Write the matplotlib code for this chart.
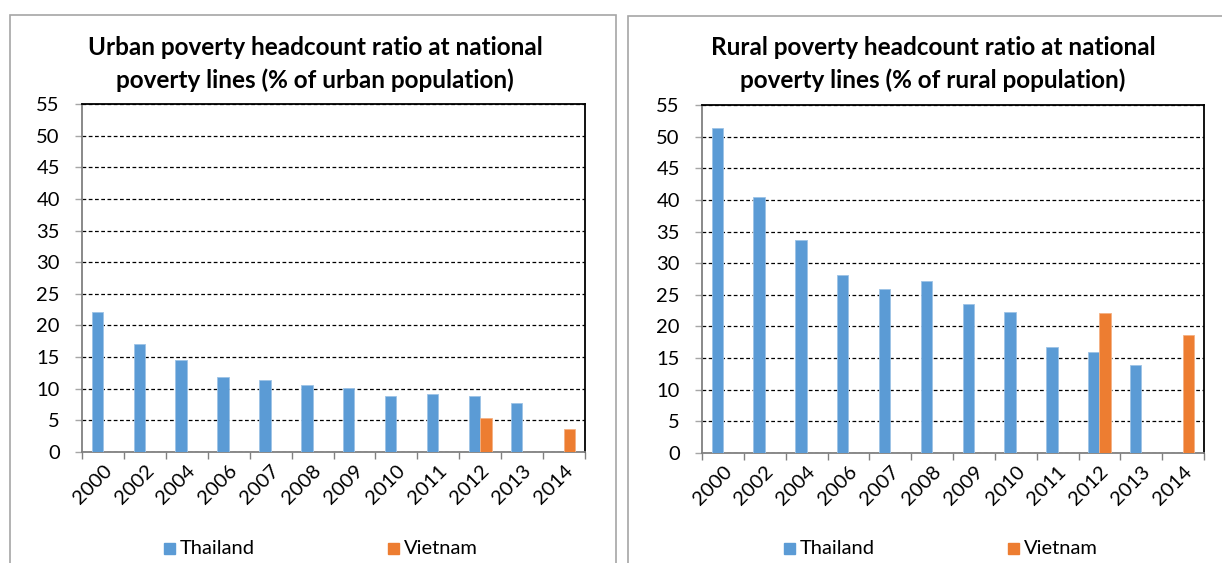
import numpy as np
import matplotlib.pyplot as plt
from matplotlib.patches import Rectangle

plt.rcParams['font.family'] = ['Lato', 'DejaVu Sans']

years = ['2000', '2002', '2004', '2006', '2007', '2008', '2009', '2010', '2011', '2012', '2013', '2014']

# poverty headcount ratio, % of population (nan = no survey that year)
urban_thailand = [22.1, 17.0, 14.6, 11.9, 11.4, 10.6, 10.1, 8.8, 9.1, 8.8, 7.7, np.nan]
urban_vietnam = [np.nan] * 9 + [5.4, np.nan, 3.7]
rural_thailand = [51.4, 40.4, 33.6, 28.2, 25.9, 27.2, 23.6, 22.3, 16.7, 16.0, 13.9, np.nan]
rural_vietnam = [np.nan] * 9 + [22.1, np.nan, 18.6]

titles = ['Urban poverty headcount ratio at national\npoverty lines (% of urban population)',
          'Rural poverty headcount ratio at national\npoverty lines (% of rural population)']

blue = '#5B9BD5'
orange = '#ED7D31'

W, H = 1222, 563
fig = plt.figure(figsize=(W / 100, H / 100), dpi=100)


def px(x0, y0, x1, y1):
    # pixel box (top-left origin) -> figure fraction rect
    return [x0 / W, 1 - y1 / H, (x1 - x0) / W, (y1 - y0) / H]


def panel(box, ax_box, title, title_x, thai, viet, leg_x):
    # grey chart-area frame
    x0, y0, x1, y1 = box
    fig.patches.append(Rectangle((x0 / W, 1 - y1 / H), (x1 - x0) / W, (y1 - y0) / H,
                                 transform=fig.transFigure, fill=False,
                                 edgecolor='#a6a6a6', linewidth=1.2))
    ax = fig.add_axes(px(*ax_box))
    x = np.arange(len(years))
    w = 0.27
    ax.bar(x - w / 2, thai, w, color=blue, edgecolor='#9dc3e6', linewidth=0.6, zorder=3)
    ax.bar(x + w / 2, viet, w, color=orange, edgecolor='#f4b183', linewidth=0.6, zorder=3)
    ax.set_xlim(-0.5, len(years) - 0.5)
    ax.set_ylim(0, 55)
    ax.set_yticks(range(0, 56, 5))
    ax.yaxis.grid(True, linestyle=(0, (3, 2)), color='black', linewidth=0.9, zorder=0)
    ax.set_xticks(x)
    ax.set_xticklabels(years, rotation=45, ha='right', va='top', rotation_mode='anchor', fontsize=14.5)
    ax.set_xticks(np.arange(-0.5, len(years)), minor=True)
    ax.tick_params(axis='x', which='major', length=0, pad=7)
    ax.tick_params(axis='x', which='minor', length=5, color='#808080', width=1)
    ax.tick_params(axis='y', length=5, color='#a6a6a6', width=1, labelsize=14.5, pad=11)
    for s in ['left', 'bottom']:
        ax.spines[s].set_color('#808080')
        ax.spines[s].set_linewidth(1.3)
    for s in ['top', 'right']:
        ax.spines[s].set_color('black')
        ax.spines[s].set_linewidth(1.3)
    fig.text(title_x / W, 1 - 64 / H, title, ha='center', va='center', fontsize=17.5,
             fontweight='bold', linespacing=1.45)
    # legend row under the axis labels
    for lx, col, name in [(leg_x, blue, 'Thailand'), (leg_x + 224, orange, 'Vietnam')]:
        fig.patches.append(Rectangle((lx / W, 1 - 554 / H), 11 / W, 11 / H,
                                     transform=fig.transFigure, color=col))
        fig.text((lx + 16) / W, 1 - 549 / H, name, ha='left', va='center', fontsize=14.5)
    return ax


panel((10, 15, 616, 600), (82, 104, 585, 452), titles[0], 315, urban_thailand, urban_vietnam, 164)
panel((628, 16, 1240, 600), (702, 105, 1204, 453), titles[1], 933, rural_thailand, rural_vietnam, 784)

fig.savefig('out.png', dpi=100)
